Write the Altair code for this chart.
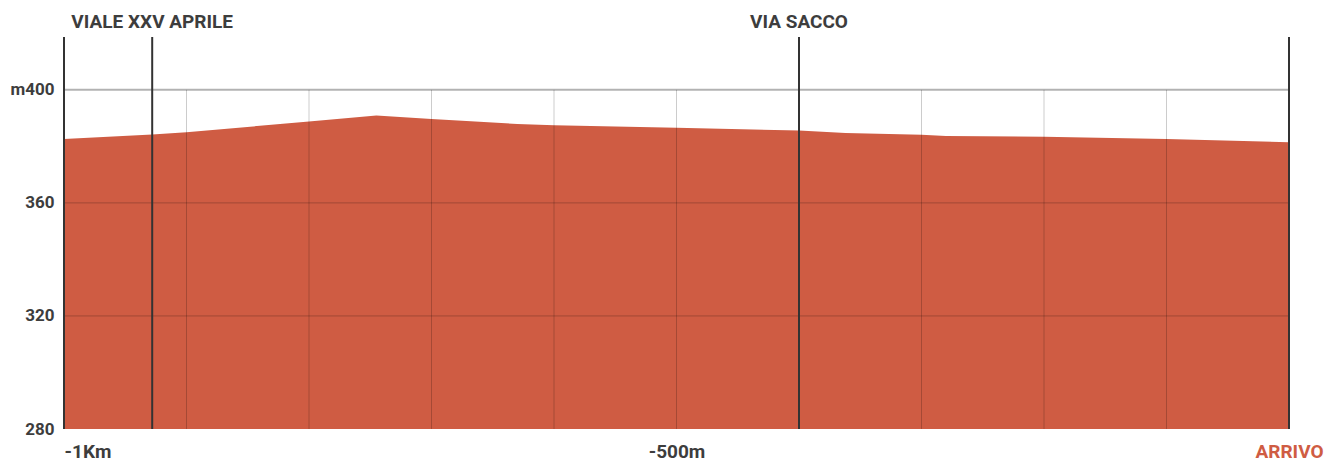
import altair as alt
import pandas as pd

# elevation profile (distance to finish in m, elevation in m)
dist = [-1000, -928, -900, -800, -745, -700, -630, -600, -500, -400, -362, -300, -280, -200, -100, 0]
elev = [382.6, 384.2, 385.0, 388.8, 390.9, 389.7, 387.9, 387.5, 386.6, 385.6, 384.7, 384.1, 383.7, 383.4, 382.6, 381.5]

grid_x = [-900, -800, -700, -600, -500, -400, -300, -200, -100]
grid_y = [360, 320]
top_y = [400]

marker_x = [-1000, -928, -400, 0]
label_names = ["VIALE XXV APRILE", "VIA SACCO"]
label_x = [-928, -400]

x_ticks = [-1000, -500, 0]
y_ticks = [280, 320, 360, 400]

Y_MIN, Y_MAX = 280, 418.7
RED = "#CF5C43"
TXT = "#3d3d3d"
FONT = "Roboto, Liberation Sans, sans-serif"

df = pd.DataFrame({"dist": dist, "elev": elev})
xs = alt.Scale(domain=[-1000, 0], nice=False, zero=False)
ys = alt.Scale(domain=[Y_MIN, Y_MAX], nice=False, zero=False)

x_axis = alt.Axis(
    values=x_ticks,
    labelExpr="datum.value == -1000 ? '-1Km' : (datum.value == -500 ? '-500m' : 'ARRIVO')",
    labelAlign=alt.ExprRef(expr="datum.value == -1000 ? 'left' : 'center'"),
    labelColor=alt.ExprRef(expr="datum.value == 0 ? '" + RED + "' : '" + TXT + "'"),
    labelFont=FONT, labelFontSize=19, labelFontWeight="bold",
    labelPadding=13, ticks=False, domain=False, grid=False, title=None,
    labelFlush=False, labelOverlap=False,
)
y_axis = alt.Axis(
    values=y_ticks,
    labelExpr="datum.value == 400 ? 'm400' : datum.label",
    labelFont=FONT, labelFontSize=17, labelFontWeight="bold", labelColor=TXT,
    labelPadding=10, ticks=False, domain=False, grid=False, title=None,
)

area = alt.Chart(df).mark_area(color=RED, opacity=1).encode(
    x=alt.X("dist:Q", scale=xs, axis=x_axis),
    y=alt.Y("elev:Q", scale=ys, axis=y_axis),
    y2=alt.datum(Y_MIN),
)

vgrid = alt.Chart(pd.DataFrame({"x": grid_x})).mark_rule(
    color="#000", opacity=0.2, strokeWidth=1
).encode(x=alt.X("x:Q", scale=xs), y=alt.datum(400), y2=alt.datum(Y_MIN))

hgrid = alt.Chart(pd.DataFrame({"y": grid_y})).mark_rule(
    color="#000", opacity=0.22, strokeWidth=1
).encode(y=alt.Y("y:Q", scale=ys), x=alt.datum(-1000), x2=alt.datum(0))

htop = alt.Chart(pd.DataFrame({"y": top_y})).mark_rule(
    color="#000", opacity=0.3, strokeWidth=2
).encode(y=alt.Y("y:Q", scale=ys), x=alt.datum(-1000), x2=alt.datum(0))

markers = alt.Chart(pd.DataFrame({"x": marker_x})).mark_rule(
    color="#333333", strokeWidth=2
).encode(x=alt.X("x:Q", scale=xs), y=alt.datum(Y_MAX), y2=alt.datum(Y_MIN))

labels = alt.Chart(pd.DataFrame({"x": label_x, "name": label_names})).mark_text(
    font=FONT, fontSize=19, fontWeight="bold", color=TXT, baseline="middle", align="center"
).encode(x=alt.X("x:Q", scale=xs), y=alt.value(-15), text="name:N")

chart = alt.layer(area, vgrid, hgrid, htop, markers, labels).properties(
    width=1225, height=392,
    autosize=alt.AutoSizeParams(type="none"),
    padding={"left": 56, "top": 29, "right": 36, "bottom": 33},
).configure_view(stroke=None)

chart.save("out.html", embed_options={"renderer": "svg", "actions": False})
